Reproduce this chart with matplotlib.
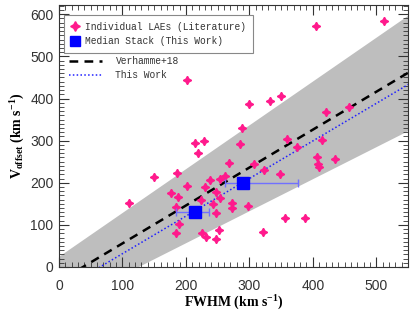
import numpy as np
import matplotlib
matplotlib.use("Agg")
import matplotlib.pyplot as plt
from matplotlib.lines import Line2D
from matplotlib.ticker import MultipleLocator

matplotlib.rcParams["mathtext.fontset"] = "custom"
matplotlib.rcParams["mathtext.rm"] = "Liberation Serif:bold"
matplotlib.rcParams["mathtext.bf"] = "Liberation Serif:bold"
matplotlib.rcParams["mathtext.it"] = "Liberation Serif:bold"

# ---- data ----
lae_fwhm = [512, 405, 201, 299, 332, 350, 288, 285, 228, 359, 375, 420, 457, 414,
            406, 435, 214, 219, 268, 307, 408, 261, 254, 238, 230, 247, 254, 242,
            247, 272, 272, 298, 323, 348, 356, 388, 322, 252, 247, 231, 225, 111,
            150, 186, 176, 187, 202, 185, 189, 184, 224, 410]
lae_voff = [585, 571, 445, 386, 393, 407, 331, 291, 298, 304, 285, 369, 380, 302,
            262, 257, 295, 271, 246, 245, 244, 217, 210, 206, 191, 177, 164, 150,
            128, 152, 140, 145, 231, 221, 117, 117, 82, 88, 66, 72, 80, 152,
            214, 224, 176, 167, 193, 143, 103, 81, 158, 238]

stack_fwhm = [214, 290]
stack_voff = [131, 200]
stack_xerr_lo = [30, 29]
stack_xerr_hi = [22, 86]

verhamme_slope, verhamme_icpt = 0.9, -34.0
verhamme_slope_err, verhamme_icpt_err = 0.14, 60.0
thiswork_slope, thiswork_icpt = 0.892, -57.6

legend_labels = ["Individual LAEs (Literature)", "Median Stack (This Work)",
                 "Verhamme+18", "This Work"]

# ---- figure ----
fig = plt.figure(figsize=(4.15, 3.11), dpi=100)
ax = fig.add_axes([59/415, 1-267/311, 349/415, 262/311])

xmin, xmax, ymin, ymax = 0, 550, 0, 622
xx = np.linspace(-10, 560, 200)
upper = (verhamme_slope + verhamme_slope_err) * xx + (verhamme_icpt + verhamme_icpt_err)
lower = (verhamme_slope - verhamme_slope_err) * xx + (verhamme_icpt - verhamme_icpt_err)
ax.fill_between(xx, lower, upper, color="#bebebe", lw=0, zorder=1)

ax.plot(xx, verhamme_slope * xx + verhamme_icpt, color="black", lw=1.8,
        dashes=(3.5, 2.5), zorder=3)
ax.plot(xx, thiswork_slope * xx + thiswork_icpt, color="#2020ff", lw=1.1,
        linestyle=(0, (1, 1.5)), zorder=3)

star = (4, 1, 0)
ax.plot(lae_fwhm, lae_voff, linestyle="none", marker=star, ms=6,
        color="#ff1a8c", mec="#ff1a8c", zorder=4)

ax.errorbar(stack_fwhm, stack_voff, xerr=[stack_xerr_lo, stack_xerr_hi],
            fmt="none", ecolor="#7070ff", elinewidth=1.0, capsize=3, capthick=1.0,
            zorder=5)
ax.plot(stack_fwhm, stack_voff, linestyle="none", marker="s", ms=8.5,
        color="#0000ff", zorder=6)

ax.set_xlim(xmin, xmax)
ax.set_ylim(ymin, ymax)

ax.xaxis.set_major_locator(MultipleLocator(100))
ax.xaxis.set_minor_locator(MultipleLocator(10))
ax.yaxis.set_major_locator(MultipleLocator(100))
ax.yaxis.set_minor_locator(MultipleLocator(10))
ax.tick_params(which="both", direction="in", top=True, right=True, color="#333333")
ax.tick_params(which="major", length=7, width=0.8)
ax.tick_params(which="minor", length=3.5, width=0.6)
ax.tick_params(axis="x", which="major", pad=9)
ax.tick_params(axis="y", which="major", pad=4)
for lab in ax.get_xticklabels() + ax.get_yticklabels():
    lab.set_fontfamily("Liberation Sans")
    lab.set_fontsize(10)
    lab.set_color("#333333")
for sp in ax.spines.values():
    sp.set_color("#333333")
    sp.set_linewidth(0.8)

ax.set_xlabel(r"FWHM (km s$^{-1}$)", fontfamily="Liberation Serif",
              fontweight="bold", fontsize=10, labelpad=0)
ax.set_ylabel(r"V$_{\rm offset}$ (km s$^{-1}$)", fontfamily="Liberation Serif",
              fontweight="bold", fontsize=10, labelpad=2)

h1 = Line2D([], [], linestyle="none", marker=star, ms=7, color="#ff1a8c")
h2 = Line2D([], [], linestyle="none", marker="s", ms=7.5, color="#0000ff")
leg1 = ax.legend([h1, h2], legend_labels[:2], loc="upper left",
                 bbox_to_anchor=(0.014, 0.962), borderaxespad=0,
                 prop={"family": "Liberation Mono", "size": 6.9},
                 frameon=True, fancybox=False, edgecolor="#888888",
                 framealpha=1, handlelength=1.0, handletextpad=0.5,
                 borderpad=0.7, labelspacing=0.45)
leg1.get_frame().set_linewidth(0.8)
for t in leg1.get_texts():
    t.set_color("#333333")
ax.add_artist(leg1)

h3 = Line2D([], [], color="black", lw=1.8, dashes=(3.5, 2.5))
h4 = Line2D([], [], color="#2020ff", lw=1.1, linestyle=(0, (1, 1.5)))
leg2 = ax.legend([h3, h4], legend_labels[2:], loc="upper left",
                 bbox_to_anchor=(0.03, 0.805), borderaxespad=0,
                 prop={"family": "Liberation Mono", "size": 6.9},
                 frameon=False, handlelength=3.4, handletextpad=1.4,
                 borderpad=0.0, labelspacing=0.4)
for t in leg2.get_texts():
    t.set_color("#333333")

fig.savefig("out.png", dpi=100)
